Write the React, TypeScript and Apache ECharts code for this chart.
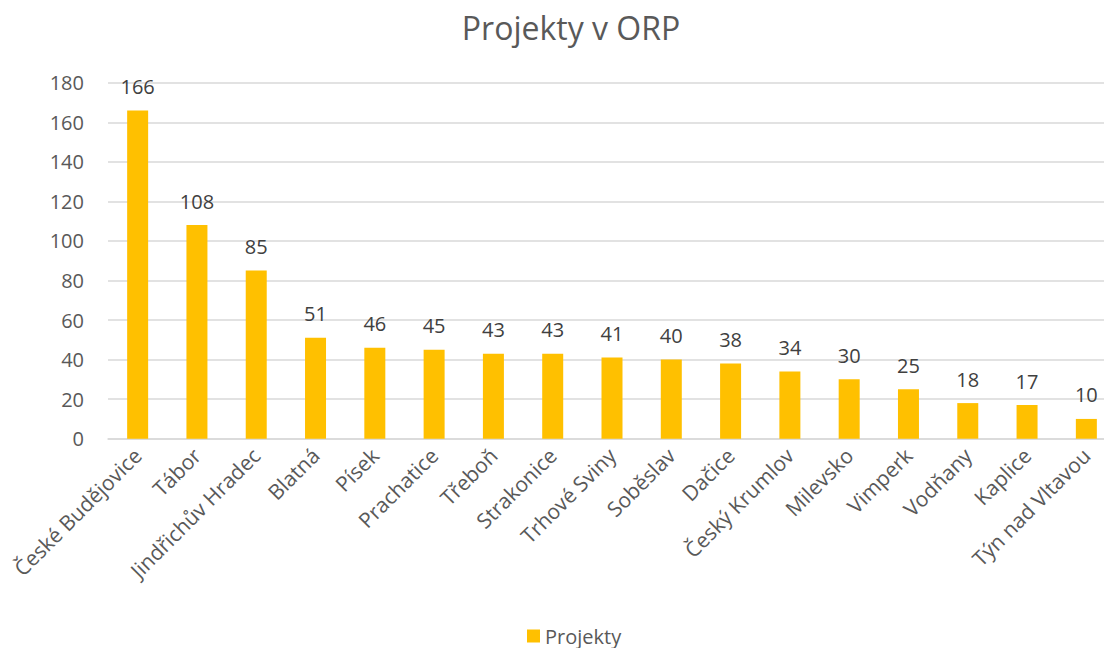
import React, { useEffect, useRef } from "react";
import * as echarts from "echarts";

const categories = [
  "České Budějovice", "Tábor", "Jindřichův Hradec", "Blatná", "Písek", "Prachatice",
  "Třeboň", "Strakonice", "Trhové Sviny", "Soběslav", "Dačice", "Český Krumlov",
  "Milevsko", "Vimperk", "Vodňany", "Kaplice", "Týn nad Vltavou",
];
const projekty = [166, 108, 85, 51, 46, 45, 43, 43, 41, 40, 38, 34, 30, 25, 18, 17, 10];
const seriesName = "Projekty";
const titleText = "Projekty v ORP";

const FONT = "'Open Sans', 'Noto Sans', sans-serif";
const GREY = "#595959";

export default function App() {
  const ref = useRef<HTMLDivElement>(null);
  useEffect(() => {
    const chart = echarts.init(ref.current!, null, { renderer: "svg" });
    chart.setOption({
      animation: false,
      backgroundColor: "#ffffff",
      textStyle: { fontFamily: FONT },
      title: {
        text: titleText,
        left: 566,
        textAlign: "center",
        top: 6,
        textStyle: { fontFamily: FONT, fontSize: 32, fontWeight: "normal", color: GREY },
      },
      legend: {
        data: [seriesName],
        left: 522,
        top: 621,
        itemWidth: 13,
        itemHeight: 13,
        itemGap: 6,
        icon: "rect",
        textStyle: { fontFamily: FONT, fontSize: 20, color: GREY },
      },
      grid: { left: 108, right: 24, top: 82.7, bottom: 209.3, containLabel: false },
      xAxis: {
        type: "category",
        data: categories,
        axisLine: { lineStyle: { color: "#d9d9d9", width: 1.5 } },
        axisTick: { show: false },
        axisLabel: {
          interval: 0,
          rotate: 45,
          margin: 13,
          fontFamily: FONT,
          fontSize: 21,
          color: GREY,
        },
      },
      yAxis: {
        type: "value",
        min: 0,
        max: 180,
        interval: 20,
        axisLine: { show: false },
        axisTick: { show: false },
        splitLine: { lineStyle: { color: "#d9d9d9", width: 1.5 } },
        axisLabel: { fontFamily: FONT, fontSize: 20, color: GREY, margin: 24 },
      },
      series: [
        {
          name: seriesName,
          type: "bar",
          data: projekty,
          barWidth: 21,
          itemStyle: { color: "#FFC000" },
          label: {
            show: true,
            position: "top",
            distance: 14,
            fontFamily: FONT,
            fontSize: 20,
            color: "#404040",
          },
        },
      ],
    });
    return () => chart.dispose();
  }, []);
  return (
    <div
      ref={ref}
      style={{ position: "fixed", left: 0, top: 0, width: 1140, height: 648 }}
    />
  );
}
